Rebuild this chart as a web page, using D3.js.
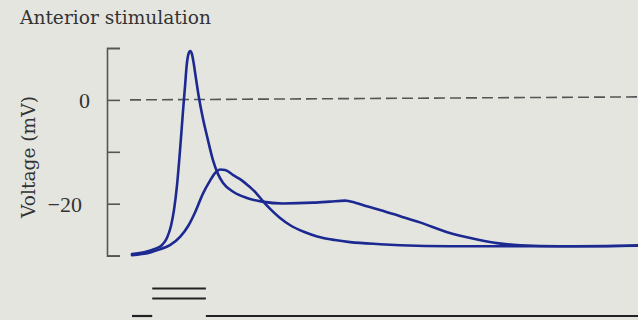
<!DOCTYPE html>
<html>
<head>
<meta charset="utf-8">
<script src="https://cdn.jsdelivr.net/npm/d3@7"></script>
<style>
  html, body { margin: 0; padding: 0; background: #e5e5e0; }
  svg { display: block; }
</style>
</head>
<body>
<svg id="chart" width="638" height="320"></svg>
<script>
// ---- data (time in ms, voltage in mV) ----
const spikeTime = [0, 2.6, 4.5, 5.9, 6.9, 7.7, 8.3, 8.9, 9.5, 10.1, 10.5, 10.8, 11.15, 11.5, 11.85, 12.2, 12.6, 13.2, 14.0, 15.0, 16.0, 17.0, 18.0, 20.0, 22.7, 25.7, 29.8, 35.8, 39.1, 42.1, 44.1, 46.4, 49.0, 53.0, 56.9, 62.3, 68.2, 72.1, 76.7, 84.6, 92.5, 100];
const spikeVoltage = [-29.7, -29.3, -28.7, -28.0, -26.6, -24.3, -21.2, -16.4, -9.6, -1.9, 2.9, 6.6, 8.8, 9.4, 8.8, 7.0, 4.4, 0.6, -3.5, -7.7, -11.6, -14.3, -16.0, -17.7, -18.9, -19.6, -19.95, -19.8, -19.6, -19.4, -19.8, -20.5, -21.2, -22.4, -23.6, -25.5, -26.9, -27.6, -28.0, -28.2, -28.2, -28.0];

const slowTime = [0, 3.6, 5.5, 7.5, 9.5, 11.1, 12.5, 14.0, 15.4, 16.6, 17.4, 18.4, 20.0, 21.7, 23.3, 24.5, 25.7, 27.3, 29.2, 31.2, 34.2, 36.6, 40.1, 43.1, 49.0, 53.0, 62.8, 72.7, 84.6, 100];
const slowVoltage = [-29.9, -29.4, -28.8, -28.0, -26.4, -24.3, -21.6, -18.1, -15.6, -13.9, -13.4, -13.5, -14.5, -15.5, -16.8, -17.9, -19.3, -21.0, -22.7, -24.1, -25.5, -26.3, -27.0, -27.4, -27.8, -28.0, -28.2, -28.2, -28.2, -28.1];

const yTicks = [10, 0, -10, -20, -30];
const yTickLabels = ["", "0", "", "\u221220", ""];
const referenceVoltage = 0;            // dashed line
const stimulusWindow = [4.0, 14.6];    // ms
const timeDomain = [0, 100];

const title = "Anterior stimulation";
const yTitle = "Voltage (mV)";

// ---- layout ----
const svg = d3.select("#chart");
svg.append("rect").attr("width", 638).attr("height", 320).attr("fill", "#e5e5e0");

const x = d3.scaleLinear().domain(timeDomain).range([132, 638]);
const y = d3.scaleLinear().domain([-30, 10]).range([255.6, 48]);

const serif = "'DejaVu Serif', serif";
const textColor = "#333";
const traceColor = "#1c2990";

// title
svg.append("text")
  .attr("x", 20).attr("y", 24)
  .attr("font-family", serif).attr("font-size", 18.6)
  .attr("fill", textColor)
  .text(title);

// y axis title
svg.append("text")
  .attr("transform", "translate(35,157) rotate(-90)")
  .attr("text-anchor", "middle")
  .attr("font-family", serif).attr("font-size", 18.6)
  .attr("fill", textColor)
  .text(yTitle);

// y axis: bracket with ticks pointing right
const axis = d3.axisLeft(y)
  .tickValues(yTicks)
  .tickSize(-13)
  .tickPadding(17)
  .tickFormat((d, i) => yTickLabels[i]);

const gAxis = svg.append("g").attr("transform", "translate(107,0)").call(axis);
gAxis.selectAll("path, line").attr("stroke", "#555").attr("stroke-width", 1.6);
gAxis.selectAll("text")
  .attr("font-family", "'Liberation Serif', serif")
  .attr("font-size", 22)
  .attr("fill", textColor)
  .attr("dx", d => d === -20 ? -8 : 0)
  .attr("dy", "0.36em");

// dashed zero line
svg.append("line")
  .attr("x1", 130).attr("x2", 638)
  .attr("y1", y(referenceVoltage)).attr("y2", y(referenceVoltage) - 3)
  .attr("stroke", "#555").attr("stroke-width", 1.6)
  .attr("stroke-dasharray", "11,5");

// traces
const line = d3.line()
  .x(d => x(d[0]))
  .y(d => y(d[1]))
  .curve(d3.curveMonotoneX);

const spike = spikeTime.map((t, i) => [t, spikeVoltage[i]]);
const slow = slowTime.map((t, i) => [t, slowVoltage[i]]);

[slow, spike].forEach(s => {
  svg.append("path")
    .datum(s)
    .attr("d", line)
    .attr("fill", "none")
    .attr("stroke", traceColor)
    .attr("stroke-width", 2.6)
    .attr("stroke-linecap", "round")
    .attr("stroke-linejoin", "round");
});

// stimulus markers
const stimColor = "#222";
const baseY = 316;
const baseSegments = [[timeDomain[0], stimulusWindow[0]], [stimulusWindow[1], timeDomain[1]]];
svg.selectAll(".base").data(baseSegments).enter().append("line")
  .attr("x1", d => x(d[0])).attr("x2", d => x(d[1]))
  .attr("y1", baseY).attr("y2", baseY)
  .attr("stroke", stimColor).attr("stroke-width", 2.2);

svg.selectAll(".stim").data([288.5, 298.5]).enter().append("line")
  .attr("x1", x(stimulusWindow[0])).attr("x2", x(stimulusWindow[1]))
  .attr("y1", d => d).attr("y2", d => d)
  .attr("stroke", stimColor).attr("stroke-width", 2.2);
</script>
</body>
</html>
